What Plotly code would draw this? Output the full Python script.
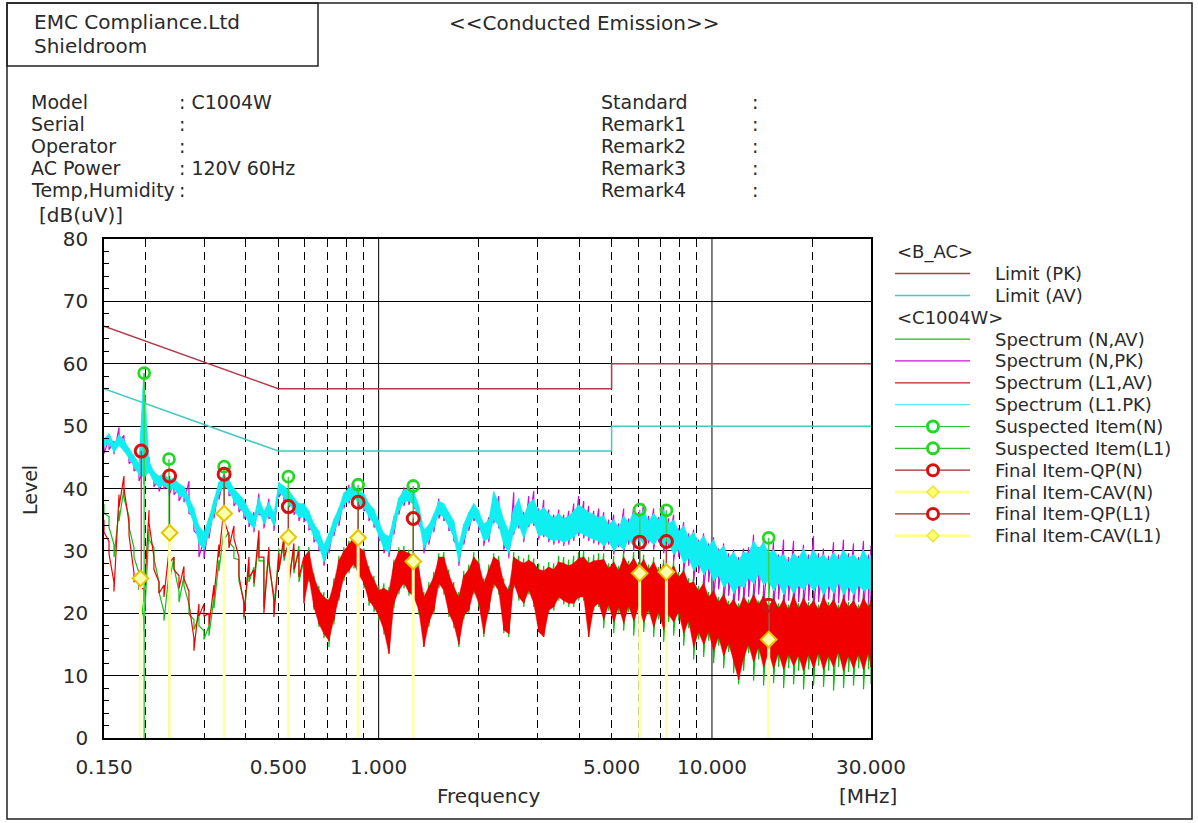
import math
import plotly.graph_objects as go

# ---------------- data ----------------
freq = [
    0.150, 0.1553, 0.1607, 0.1664, 0.1722, 0.1783, 0.1845, 0.1910, 0.1977, 0.2047,
    0.2118, 0.2193, 0.2270, 0.2350, 0.2432, 0.2518, 0.2606, 0.2698, 0.2792, 0.2890,
    0.2992, 0.3097, 0.3206, 0.3318, 0.3435, 0.3556, 0.3680, 0.3810, 0.3943, 0.4082,
    0.4225, 0.4374, 0.4527, 0.4686, 0.4851, 0.5022, 0.5198, 0.5381, 0.5570, 0.5766,
    0.5968, 0.6178, 0.6395, 0.6620, 0.6853, 0.7093, 0.7343, 0.7601, 0.7868, 0.8145,
    0.8431, 0.8727, 0.9034, 0.9351, 0.9680, 1.002, 1.037, 1.074, 1.111, 1.150,
    1.191, 1.232, 1.276, 1.320, 1.367, 1.415, 1.464, 1.516, 1.569, 1.624,
    1.681, 1.740, 1.801, 1.864, 1.930, 1.997, 2.068, 2.140, 2.215, 2.293,
    2.374, 2.457, 2.543, 2.633, 2.725, 2.821, 2.920, 3.022, 3.128, 3.238,
    3.352, 3.470, 3.591, 3.718, 3.848, 3.983, 4.123, 4.268, 4.418, 4.573,
    4.733, 4.900, 5.072, 5.250, 5.434, 5.625, 5.823, 6.027, 6.239, 6.458,
    6.685, 6.919, 7.162, 7.414, 7.674, 7.944, 8.223, 8.512, 8.811, 9.120,
    9.440, 9.772, 10.11, 10.47, 10.84, 11.22, 11.61, 12.02, 12.44, 12.88,
    13.33, 13.80, 14.28, 14.79, 15.30, 15.84, 16.40, 16.97, 17.57, 18.19,
    18.82, 19.49, 20.17, 20.88, 21.61, 22.37, 23.16, 23.97, 24.81, 25.68,
    26.58, 27.52, 28.48, 29.48, 30.00,
]

# Spectrum (L1.PK) - cyan, max/min per sweep bin
l1pk_hi = [
    48.0, 48.8, 47.2, 48.6, 47.8, 46.4, 45.3, 44.0, 58.5, 44.4,
    42.7, 42.0, 42.4, 41.5, 41.6, 40.8, 40.3, 38.6, 36.8, 34.0,
    33.0, 35.3, 38.2, 41.0, 42.3, 41.4, 40.0, 39.0, 38.2, 36.6,
    35.6, 38.5, 36.4, 37.8, 36.1, 41.0, 40.4, 39.7, 38.5, 37.6,
    37.6, 36.4, 34.4, 33.2, 31.0, 32.8, 35.1, 36.9, 39.3, 40.1,
    40.5, 39.6, 39.2, 37.6, 36.7, 34.8, 32.8, 32.3, 35.6, 38.5,
    39.8, 40.0, 39.5, 37.2, 33.4, 34.2, 35.9, 38.0, 37.6, 36.2,
    34.8, 31.0, 34.3, 36.2, 37.6, 36.4, 34.3, 35.0, 39.5, 37.8,
    35.0, 33.2, 36.8, 38.4, 35.6, 37.6, 38.3, 36.3, 37.0, 36.0,
    35.3, 36.0, 35.2, 35.6, 36.4, 37.4, 36.8, 36.2, 35.8, 35.4,
    35.6, 34.2, 35.0, 33.8, 35.6, 34.6, 36.2, 35.4, 36.6, 34.8,
    36.0, 35.0, 36.6, 34.4, 35.0, 33.2, 34.0, 32.2, 33.0, 31.4,
    32.4, 30.8, 31.8, 30.0, 30.8, 28.9, 29.8, 28.4, 29.8, 29.6,
    31.6, 30.4, 31.4, 29.6, 30.2, 29.0, 29.4, 28.2, 29.6, 28.8,
    30.4, 28.6, 30.2, 28.8, 29.4, 28.4, 29.8, 28.6, 30.2, 28.9,
    29.4, 28.4, 30.2, 28.6, 29.4,
]
l1pk_lo = [
    46.8, 47.2, 45.8, 46.9, 46.0, 44.8, 43.6, 42.2, 41.8, 42.6,
    41.0, 40.2, 40.6, 39.7, 40.0, 38.9, 38.6, 36.4, 34.3, 31.2,
    30.2, 32.8, 35.9, 39.0, 40.6, 39.6, 38.0, 37.0, 36.0, 34.5,
    33.6, 36.4, 34.3, 35.8, 34.0, 39.4, 38.6, 37.6, 36.5, 35.4,
    35.4, 34.2, 32.2, 30.8, 28.2, 30.3, 33.0, 34.8, 37.4, 38.0,
    38.6, 37.5, 36.9, 35.4, 34.4, 32.3, 30.3, 29.7, 33.3, 36.4,
    37.8, 38.0, 37.4, 34.9, 30.4, 31.7, 33.6, 35.9, 35.4, 33.8,
    32.2, 28.2, 31.7, 33.9, 35.4, 34.0, 31.6, 32.0, 35.0, 34.0,
    31.0, 29.6, 33.0, 34.2, 32.0, 34.2, 34.6, 32.4, 32.6, 32.0,
    31.6, 31.8, 31.4, 31.7, 32.2, 33.0, 32.6, 32.2, 31.8, 31.6,
    30.8, 31.6, 30.0, 31.0, 30.2, 31.8, 30.8, 32.2, 31.0, 31.8,
    31.0, 32.0, 30.6, 31.2, 29.4, 30.2, 28.0, 28.8, 26.8, 27.8,
    26.2, 27.2, 25.2, 26.0, 24.2, 25.0, 23.2, 24.4, 24.2, 25.6,
    24.8, 26.2, 24.6, 25.2, 23.6, 24.8, 23.0, 24.6, 23.2, 24.4,
    23.8, 24.8, 23.6, 24.6, 23.0, 24.4, 23.2, 24.8, 23.0, 24.2,
    23.0, 24.4, 23.6, 24.0, 23.4,
]

# Spectrum (N,PK) - magenta
npk_hi = [
    47.2, 48.0, 47.6, 49.8, 48.5, 45.8, 44.6, 43.4, 43.0, 45.0,
    42.2, 41.4, 41.8, 40.8, 41.0, 40.0, 39.6, 41.2, 35.8, 32.5,
    31.8, 34.5, 37.6, 40.4, 42.0, 40.8, 39.4, 38.4, 37.6, 36.0,
    36.2, 39.2, 35.8, 38.4, 35.5, 40.6, 40.0, 39.2, 38.0, 37.0,
    37.2, 35.8, 33.8, 32.6, 30.4, 32.4, 34.6, 36.4, 39.0, 40.6,
    40.8, 39.2, 38.8, 37.2, 36.2, 34.4, 32.4, 31.8, 35.2, 38.2,
    40.2, 40.4, 39.8, 36.8, 33.0, 33.8, 35.6, 38.4, 37.2, 35.8,
    34.4, 30.6, 33.8, 35.8, 37.2, 36.0, 34.0, 35.4, 38.6, 38.8,
    34.6, 32.8, 39.4, 38.0, 36.2, 38.8, 39.6, 36.8, 38.2, 36.6,
    35.8, 36.6, 35.8, 36.4, 37.6, 38.8, 38.0, 37.2, 36.4, 36.8,
    36.2, 35.0, 35.8, 34.4, 36.8, 35.2, 37.0, 36.2, 37.6, 35.6,
    36.8, 35.4, 37.4, 35.2, 35.8, 33.6, 34.6, 32.8, 33.4, 31.8,
    32.8, 31.2, 32.2, 30.4, 31.2, 29.6, 30.2, 29.0, 30.4, 30.6,
    32.6, 30.6, 31.8, 29.8, 31.4, 29.4, 31.8, 29.0, 31.6, 29.2,
    31.0, 29.4, 32.4, 29.6, 30.4, 29.2, 31.4, 29.4, 31.8, 29.6,
    31.2, 29.0, 31.6, 29.4, 30.8,
]
npk_lo = [
    45.6, 46.2, 45.5, 47.5, 46.3, 44.0, 42.8, 41.2, 40.6, 42.8,
    40.3, 39.5, 39.9, 38.9, 39.0, 38.0, 37.8, 36.0, 33.2, 29.0,
    28.8, 32.0, 35.2, 38.2, 39.8, 38.8, 37.2, 36.2, 35.2, 33.8,
    33.0, 35.8, 33.6, 35.2, 33.2, 38.6, 37.8, 37.0, 35.8, 34.8,
    34.6, 33.4, 31.4, 30.0, 27.6, 29.6, 32.4, 34.0, 36.8, 37.6,
    38.2, 37.0, 36.4, 34.8, 33.8, 31.6, 29.6, 29.0, 32.6, 35.8,
    37.2, 37.4, 36.8, 34.2, 29.6, 31.0, 33.0, 35.2, 34.8, 33.2,
    31.6, 27.6, 31.0, 33.2, 34.8, 33.4, 30.8, 31.4, 34.4, 33.6,
    30.2, 28.8, 32.6, 33.6, 31.4, 33.8, 34.0, 31.8, 32.2, 31.4,
    31.0, 31.2, 30.8, 31.0, 31.6, 32.4, 32.0, 31.6, 31.2, 31.0,
    30.0, 31.0, 29.4, 30.6, 29.6, 31.0, 30.0, 31.6, 30.2, 31.2,
    30.2, 31.4, 29.6, 30.8, 28.4, 29.0, 26.6, 27.6, 25.2, 26.4,
    23.8, 25.0, 22.6, 23.8, 21.8, 22.8, 20.8, 22.0, 21.6, 22.6,
    21.8, 23.0, 21.4, 22.6, 21.0, 22.2, 20.8, 22.0, 21.2, 21.8,
    21.0, 22.0, 20.6, 21.8, 21.2, 22.2, 20.8, 21.6, 20.6, 22.0,
    21.0, 21.8, 20.8, 21.6, 21.2,
]

# Spectrum (L1,AV) - red
l1av_hi = [
    35.0, 31.5, 25.0, 39.0, 42.0, 34.5, 26.5, 25.5, 24.0, 36.5,
    29.0, 25.0, 24.5, 30.0, 29.0, 26.0, 27.5, 23.5, 16.0, 21.5,
    21.5, 20.0, 24.5, 31.0, 37.0, 32.5, 34.0, 29.0, 21.6, 29.0,
    26.9, 33.3, 29.0, 30.6, 22.0, 29.6, 32.2, 31.2, 31.2, 30.0,
    29.0, 30.0, 25.8, 23.7, 22.6, 22.0, 24.8, 28.5, 30.0, 31.2,
    32.2, 30.6, 30.0, 27.0, 25.3, 23.7, 24.0, 23.5, 28.0, 30.0,
    30.0, 29.6, 29.0, 27.0, 22.6, 24.2, 25.8, 29.0, 29.0, 26.2,
    24.2, 22.6, 26.0, 27.0, 29.0, 28.0, 24.8, 27.0, 29.0, 28.4,
    24.8, 23.6, 29.0, 28.4, 28.0, 28.5, 28.0, 27.0, 26.8, 27.4,
    27.0, 28.2, 28.0, 27.6, 28.0, 28.8, 29.0, 28.0, 28.4, 28.5,
    28.6, 27.2, 28.2, 26.8, 29.0, 27.6, 28.8, 27.4, 28.6, 27.0,
    28.2, 26.6, 27.8, 26.4, 27.6, 25.8, 26.8, 24.8, 25.0, 23.6,
    24.8, 22.6, 23.6, 21.8, 23.0, 21.2, 22.2, 20.8, 22.6, 21.4,
    23.0, 21.4, 22.8, 21.0, 22.4, 20.8, 22.2, 20.6, 22.8, 20.8,
    22.4, 21.0, 22.0, 20.6, 22.6, 21.0, 22.2, 20.6, 22.4, 21.0,
    22.0, 20.6, 22.4, 21.0, 22.0,
]
l1av_lo = [
    33.0, 29.5, 23.5, 37.0, 40.0, 32.5, 25.0, 23.8, 21.8, 34.5,
    27.0, 23.2, 22.6, 28.0, 27.0, 24.0, 25.5, 21.5, 14.0, 19.5,
    19.5, 18.0, 22.5, 29.0, 35.0, 30.5, 32.0, 26.0, 19.4, 25.8,
    24.8, 29.0, 20.0, 28.5, 19.4, 26.9, 29.0, 24.8, 27.0, 25.8,
    21.6, 25.8, 21.0, 18.3, 16.7, 15.6, 18.9, 22.6, 25.8, 26.9,
    27.9, 26.2, 24.8, 22.0, 21.0, 19.5, 17.3, 13.5, 21.6, 23.7,
    24.8, 23.4, 22.6, 20.5, 14.6, 18.5, 20.5, 24.8, 23.7, 20.0,
    18.3, 15.0, 19.6, 20.5, 23.7, 21.6, 16.7, 20.5, 24.8, 23.6,
    17.3, 16.7, 24.8, 22.6, 21.6, 23.7, 21.6, 17.0, 16.2, 20.5,
    21.0, 22.6, 22.0, 21.6, 21.6, 22.6, 22.6, 16.2, 21.0, 21.6,
    19.0, 21.4, 18.6, 21.0, 18.4, 21.2, 18.8, 21.0, 18.6, 20.6,
    17.8, 20.2, 17.4, 19.8, 18.6, 20.2, 16.8, 18.8, 14.6, 17.0,
    15.0, 17.0, 14.0, 16.2, 13.2, 15.2, 12.4, 9.3, 12.8, 15.0,
    12.2, 14.6, 11.4, 13.8, 11.2, 13.6, 11.0, 13.4, 11.6, 13.2,
    10.8, 13.4, 11.2, 13.6, 11.0, 13.2, 11.4, 13.8, 10.8, 13.2,
    11.2, 13.4, 11.0, 13.6, 11.4,
]

# Spectrum (N,AV) - green
nav_hi = [
    37.5, 35.5, 31.0, 36.5, 40.0, 35.5, 30.5, 26.5, 18.8, 33.5,
    30.5, 25.0, 20.2, 26.5, 29.0, 23.5, 26.0, 21.5, 19.0, 19.5,
    17.2, 18.0, 22.5, 28.5, 33.5, 33.0, 30.5, 28.6, 22.0, 28.2,
    27.4, 32.0, 28.4, 30.2, 23.0, 30.4, 31.6, 31.8, 30.4, 30.8,
    28.6, 30.6, 26.4, 24.4, 23.4, 22.4, 25.6, 29.2, 30.6, 31.6,
    31.8, 31.2, 30.4, 27.6, 26.0, 24.4, 24.8, 24.2, 28.6, 30.6,
    30.8, 30.2, 29.6, 27.8, 23.4, 25.0, 26.6, 29.6, 29.8, 27.0,
    25.0, 23.4, 26.8, 27.8, 29.8, 28.8, 25.6, 27.8, 29.6, 29.2,
    25.6, 24.4, 29.8, 29.2, 28.8, 29.4, 28.8, 28.0, 27.6, 28.2,
    28.0, 29.2, 29.0, 28.6, 29.2, 29.8, 30.0, 29.0, 29.4, 29.6,
    29.6, 28.0, 29.2, 27.6, 30.0, 28.4, 29.8, 28.2, 29.4, 27.8,
    29.0, 27.4, 28.6, 27.2, 28.4, 26.6, 27.6, 25.6, 26.0, 24.4,
    25.6, 23.4, 24.4, 22.6, 23.8, 22.0, 23.0, 21.6, 23.4, 22.2,
    23.8, 22.0, 23.6, 21.8, 23.2, 21.6, 23.0, 21.4, 23.6, 21.6,
    23.2, 21.8, 22.8, 21.4, 23.4, 21.8, 23.0, 21.4, 23.2, 21.8,
    22.8, 21.4, 23.2, 21.8, 22.8,
]
nav_lo = [
    36.0, 33.8, 29.0, 34.8, 38.5, 33.8, 29.0, 24.8, 17.2, 31.8,
    28.8, 23.4, 18.8, 24.8, 27.4, 21.8, 24.4, 19.8, 17.4, 18.0,
    15.8, 16.4, 20.8, 26.8, 31.8, 31.4, 28.8, 25.2, 19.0, 25.0,
    24.2, 28.4, 21.0, 27.6, 20.0, 27.0, 28.4, 25.6, 26.4, 25.0,
    22.4, 25.0, 20.6, 17.8, 16.0, 14.6, 18.2, 22.0, 25.2, 26.4,
    27.2, 25.6, 24.0, 21.2, 20.2, 18.8, 16.6, 15.8, 20.8, 23.0,
    24.0, 22.8, 22.0, 19.8, 15.2, 17.8, 19.8, 24.0, 23.0, 19.4,
    17.6, 14.6, 19.0, 20.0, 23.0, 21.0, 16.2, 20.0, 24.0, 23.0,
    16.8, 16.2, 24.0, 22.0, 21.0, 23.0, 21.0, 17.8, 17.0, 20.0,
    20.4, 22.0, 21.4, 21.0, 21.0, 22.0, 22.0, 18.0, 20.4, 21.0,
    17.6, 20.4, 16.8, 20.0, 17.2, 20.2, 16.4, 19.6, 17.0, 19.8,
    16.2, 19.0, 15.4, 18.6, 16.4, 18.8, 14.8, 17.6, 12.6, 15.8,
    13.0, 15.6, 12.0, 14.8, 11.2, 13.8, 10.4, 8.6, 10.8, 13.6,
    9.2, 12.6, 8.4, 11.8, 8.8, 11.4, 8.0, 11.2, 8.6, 10.8,
    7.8, 11.0, 8.4, 11.6, 8.2, 10.8, 7.6, 11.4, 8.0, 10.6,
    8.4, 11.2, 7.8, 11.0, 8.6,
]

# Limits (B_AC)
limit_f = [0.15, 0.5, 5.0, 5.0, 30.0]
limit_pk = [66.0, 56.0, 56.0, 60.0, 60.0]
limit_av = [56.0, 46.0, 46.0, 50.0, 50.0]

# Items
sus_n_f = [0.198, 0.344, 0.868, 6.07, 14.8]
sus_n_v = [58.5, 43.5, 40.6, 36.6, 32.1]
sus_l1_f = [0.235, 0.536, 1.27, 7.30]
sus_l1_v = [44.7, 41.9, 40.4, 36.5]
qp_n_f = [0.194, 0.344, 0.868, 6.07, 14.8]
qp_n_v = [46.0, 42.3, 37.8, 31.4, 21.3]
qp_l1_f = [0.236, 0.536, 1.27, 7.30]
qp_l1_v = [42.0, 37.1, 35.2, 31.5]
cav_n_f = [0.193, 0.344, 0.868, 6.07, 14.8]
cav_n_v = [25.6, 36.0, 32.1, 26.4, 15.8]
cav_l1_f = [0.236, 0.536, 1.27, 7.30]
cav_l1_v = [32.9, 32.2, 28.3, 26.6]

xtick_vals = [0.15, 0.5, 1.0, 5.0, 10.0, 30.0]
xtick_text = ["0.150", "0.500", "1.000", "5.000", "10.000", "30.000"]
xgrid_dashed = [0.2, 0.3, 0.4, 0.5, 0.6, 0.7, 0.8, 0.9, 2, 3, 4, 5, 6, 7, 8, 9, 20]
xgrid_solid = [1.0, 10.0]
ytick_vals = [0, 10, 20, 30, 40, 50, 60, 70, 80]

# ---------------- styles ----------------
C_LIM_PK = "#B23A4A"
C_LIM_AV = "#44C8C4"
C_NAV = "#10C010"
C_NPK = "#CC10D8"
C_L1AV = "#F00000"
C_L1PK = "#10EEF0"
C_SUS = "#22D822"
C_QP = "#D81010"
C_CAV_FILL = "#FFFFB0"
C_CAV_LINE = "#E6C400"
C_STEM_SUS = "#40D040"
C_STEM_QP = "#B83030"
C_STEM_CAV = "#FFFFAE"

W, H = 1198, 823
PL, PR, PT, PB = 104, 871, 239, 738
FONT = "DejaVu Sans"
TXT = "#2a2a2a"
FMIN, FMAX = 0.15, 30.0


def px(x):
    return (x - PL) / (PR - PL)


def py(y):
    return (PB - y) / (PB - PT)


def fpaper(f):
    return (math.log10(f) - math.log10(FMIN)) / (math.log10(FMAX) - math.log10(FMIN))


def zig(f, hi, lo):
    n = min(len(f), len(hi), len(lo))
    xs, ys = [], []
    for k in range(n):
        xs += [f[k], f[k]]
        ys += [hi[k], lo[k]]
    return xs, ys


def band(f, hi, lo, start):
    n = min(len(f), len(hi), len(lo))
    xs = list(f[start:n]) + list(f[start:n])[::-1]
    ys = list(hi[start:n]) + list(lo[start:n])[::-1]
    return xs, ys


def stems(f, v):
    xs, ys = [], []
    for a, b in zip(f, v):
        xs += [a, a, None]
        ys += [b, 0, None]
    return xs, ys


fig = go.Figure()

fig.add_trace(go.Scatter(x=limit_f, y=limit_pk, mode="lines", name="Limit (PK)",
                         line=dict(color=C_LIM_PK, width=1.5)))
fig.add_trace(go.Scatter(x=limit_f, y=limit_av, mode="lines", name="Limit (AV)",
                         line=dict(color=C_LIM_AV, width=1.5)))

# (name, hi, lo, colour, first bin of solid band or None)
spectra = [
    ("Spectrum (N,AV)", nav_hi, nav_lo, C_NAV, None),
    ("Spectrum (N,PK)", npk_hi, npk_lo, C_NPK, None),
    ("Spectrum (L1,AV)", l1av_hi, l1av_lo, C_L1AV, 40),
    ("Spectrum (L1.PK)", l1pk_hi, l1pk_lo, C_L1PK, 0),
]
for name, hi, lo, col, start in spectra:
    if start is not None:
        bx, by = band(freq, hi, lo, start)
        fig.add_trace(go.Scatter(x=bx, y=by, mode="lines", fill="toself", fillcolor=col,
                                 line=dict(color=col, width=0.5), name=name, hoverinfo="skip"))
    xs, ys = zig(freq, hi, lo)
    fig.add_trace(go.Scatter(x=xs, y=ys, mode="lines", name=name,
                             line=dict(color=col, width=1.2)))

stem_specs = [
    (sus_n_f, sus_n_v, C_STEM_SUS, 1.5),
    (sus_l1_f, sus_l1_v, C_STEM_SUS, 1.5),
    (qp_n_f, qp_n_v, C_STEM_QP, 1.2),
    (qp_l1_f, qp_l1_v, C_STEM_QP, 1.2),
    (cav_n_f, cav_n_v, C_STEM_CAV, 3),
    (cav_l1_f, cav_l1_v, C_STEM_CAV, 3),
]
for f, v, col, w in stem_specs:
    xs, ys = stems(f, v)
    fig.add_trace(go.Scatter(x=xs, y=ys, mode="lines", line=dict(color=col, width=w),
                             hoverinfo="skip"))

sus_marker = dict(symbol="circle-open", size=11, color=C_SUS, line=dict(width=2.8, color=C_SUS))
qp_marker = dict(symbol="circle-open", size=12, color=C_QP, line=dict(width=3, color=C_QP))
cav_marker = dict(symbol="diamond", size=12, color=C_CAV_FILL, line=dict(width=2, color=C_CAV_LINE))

items = [
    ("Suspected Item(N)", sus_n_f, sus_n_v, sus_marker),
    ("Suspected Item(L1)", sus_l1_f, sus_l1_v, sus_marker),
    ("Final Item-QP(N)", qp_n_f, qp_n_v, qp_marker),
    ("Final Item-CAV(N)", cav_n_f, cav_n_v, cav_marker),
    ("Final Item-QP(L1)", qp_l1_f, qp_l1_v, qp_marker),
    ("Final Item-CAV(L1)", cav_l1_f, cav_l1_v, cav_marker),
]
for name, f, v, mk in items:
    fig.add_trace(go.Scatter(x=f, y=v, mode="markers", name=name, marker=mk))

# ---------------- shapes & annotations ----------------
shapes = []
for f in xgrid_solid:
    shapes.append(dict(type="line", xref="paper", yref="paper", x0=fpaper(f), x1=fpaper(f),
                       y0=0, y1=1, line=dict(color="black", width=1), layer="below"))
shapes.append(dict(type="rect", xref="paper", yref="paper", x0=px(7), x1=px(1192),
                   y0=py(3), y1=py(819), line=dict(color="#222", width=1.5)))
shapes.append(dict(type="rect", xref="paper", yref="paper", x0=px(7), x1=px(318),
                   y0=py(3), y1=py(66), line=dict(color="#222", width=1.5)))

ann = []


def text(t, x, y, size=18, anchor="left", angle=0):
    ann.append(dict(text=t, x=px(x), y=py(y), xref="paper", yref="paper", showarrow=False,
                    xanchor=anchor, yanchor="middle", textangle=angle,
                    font=dict(family=FONT, size=size, color=TXT)))


text("EMC Compliance.Ltd", 32, 22, size=20)
text("Shieldroom", 32, 46, size=20)
text("&lt;&lt;Conducted Emission&gt;&gt;", 447, 23, size=20)
left_labels = ["Model", "Serial", "Operator", "AC Power", "Temp,Humidity"]
left_values = [": C1004W", ":", ":", ": 120V 60Hz", ":"]
right_labels = ["Standard", "Remark1", "Remark2", "Remark3", "Remark4"]
rows_y = [102, 124, 146, 168, 190]
for lab, val, rl, yy in zip(left_labels, left_values, right_labels, rows_y):
    text(lab, 29, yy, size=19)
    text(val, 177, yy, size=19)
    text(rl, 599, yy, size=19)
    text(":", 750, yy, size=19)
text("[dB(uV)]", 37, 215, size=20)
text("Level", 30, 490, size=19, anchor="center", angle=-90)
text("Frequency", 488, 796, size=20, anchor="center")
text("[MHz]", 868, 796, size=20, anchor="center")

# ---- legend drawn as layout decoration ----
leg_x0, leg_x1, leg_mx, leg_tx = 895, 970, 933, 993
leg_y0, leg_dy = 251.7, 21.85
legend_rows = [
    ("title", "&lt;B_AC&gt;", None, None),
    ("line", "Limit (PK)", dict(color=C_LIM_PK, width=1.5), None),
    ("line", "Limit (AV)", dict(color=C_LIM_AV, width=1.5), None),
    ("title", "&lt;C1004W&gt;", None, None),
    ("line", "Spectrum (N,AV)", dict(color=C_NAV, width=1.2), None),
    ("line", "Spectrum (N,PK)", dict(color=C_NPK, width=1.2), None),
    ("line", "Spectrum (L1,AV)", dict(color="#C02020", width=1.2), None),
    ("line", "Spectrum (L1.PK)", dict(color="#60E8F0", width=1.2), None),
    ("line", "Suspected Item(N)", dict(color="#30C030", width=1.2), "sus"),
    ("line", "Suspected Item(L1)", dict(color="#30C030", width=1.2), "sus"),
    ("line", "Final Item-QP(N)", dict(color="#A02828", width=1.2), "qp"),
    ("line", "Final Item-CAV(N)", dict(color="#FFFF90", width=3), "cav"),
    ("line", "Final Item-QP(L1)", dict(color="#A02828", width=1.2), "qp"),
    ("line", "Final Item-CAV(L1)", dict(color="#FFFF90", width=3), "cav"),
]
for k, (kind, label, ln, mk) in enumerate(legend_rows):
    yy = leg_y0 + k * leg_dy
    if kind == "title":
        text(label, leg_x0, yy)
        continue
    shapes.append(dict(type="line", xref="paper", yref="paper", x0=px(leg_x0), x1=px(leg_x1),
                       y0=py(yy), y1=py(yy), line=ln))
    if mk in ("sus", "qp"):
        r = 5.5
        col = C_SUS if mk == "sus" else C_QP
        shapes.append(dict(type="circle", xref="paper", yref="paper",
                           x0=px(leg_mx - r), x1=px(leg_mx + r), y0=py(yy + r), y1=py(yy - r),
                           line=dict(color=col, width=3), fillcolor="white"))
    elif mk == "cav":
        r = 6
        path = "M{},{} L{},{} L{},{} L{},{} Z".format(
            px(leg_mx - r), py(yy), px(leg_mx), py(yy - r),
            px(leg_mx + r), py(yy), px(leg_mx), py(yy + r))
        shapes.append(dict(type="path", xref="paper", yref="paper", path=path,
                           line=dict(color="#F0E040", width=1.5), fillcolor="#FFFF70"))
    text(label, leg_tx, yy)

fig.update_layout(
    width=W, height=H,
    margin=dict(l=PL, r=W - PR, t=PT, b=H - PB, pad=0),
    paper_bgcolor="white", plot_bgcolor="white",
    font=dict(family=FONT, size=18, color=TXT),
    shapes=shapes, annotations=ann, showlegend=False,
    xaxis=dict(type="log", range=[math.log10(FMIN), math.log10(FMAX)],
               tickmode="array", tickvals=xtick_vals, ticktext=xtick_text,
               showgrid=False, zeroline=False, showline=True, linecolor="black",
               linewidth=1.5, mirror=True, ticks="",
               tickfont=dict(family=FONT, size=20, color=TXT), ticklabelstandoff=10,
               minor=dict(tickmode="array", tickvals=xgrid_dashed, showgrid=True,
                          gridcolor="black", gridwidth=1, griddash="8px,5px", ticks="")),
    yaxis=dict(range=[0, 80], tickmode="array", tickvals=ytick_vals,
               showgrid=True, gridcolor="black", gridwidth=1, zeroline=False,
               showline=True, linecolor="black", linewidth=1.5, mirror=True,
               ticks="inside", ticklen=5, tickcolor="black",
               minor=dict(dtick=2, ticks="inside", ticklen=5, tickcolor="black", showgrid=False),
               tickfont=dict(family=FONT, size=20, color=TXT), ticklabelstandoff=10),
)

fig.write_html("out.html", config={"displayModeBar": False},
               post_script="document.body.style.margin='0px';document.body.style.overflow='hidden';")
